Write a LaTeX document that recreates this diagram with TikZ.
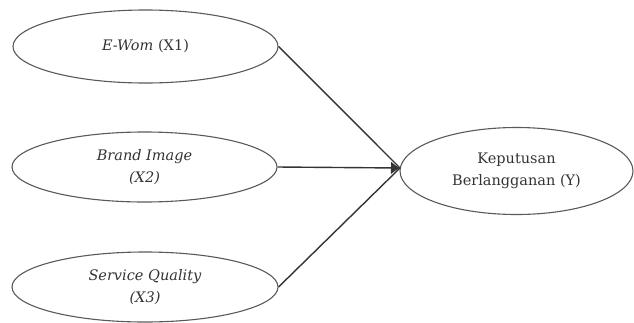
\documentclass[tikz,border=0pt]{standalone}
\usepackage{fontspec}
\setmainfont{DejaVu Serif}
\usetikzlibrary{shapes.geometric,arrows.meta}
\begin{document}
\begin{tikzpicture}[x=1pt,y=-1pt,
  var/.style={ellipse,draw=black!65,line width=1.1pt,inner sep=0pt,align=center,
    font=\fontsize{14.5}{22}\selectfont,text=black!80},
  path/.style={draw=black!80,line width=1.4pt},
  tip/.style={-{Latex[length=9pt,width=13pt]}}]
\useasboundingbox (0,0) rectangle (634,322);
\node[var,minimum width=265pt,minimum height=73pt] (x1) at (145.5,46.5) {\textit{E-Wom} (X1)};
\node[var,minimum width=265pt,minimum height=70pt] (x2) at (144.5,167) {\textit{Brand Image}\\\textit{(X2)}};
\node[var,minimum width=266pt,minimum height=70pt] (x3) at (145,287) {\textit{Service Quality}\\\textit{(X3)}};
\node[var,minimum width=233pt,minimum height=87pt] (y) at (516.5,171) {Keputusan\\Berlangganan (Y)};
\coordinate (j) at (400,168);
\draw[path] (x1.east) -- (j);
\draw[path] (x3.east) -- (j);
\draw[path,tip] (x2.east) -- (j);
\end{tikzpicture}
\end{document}
